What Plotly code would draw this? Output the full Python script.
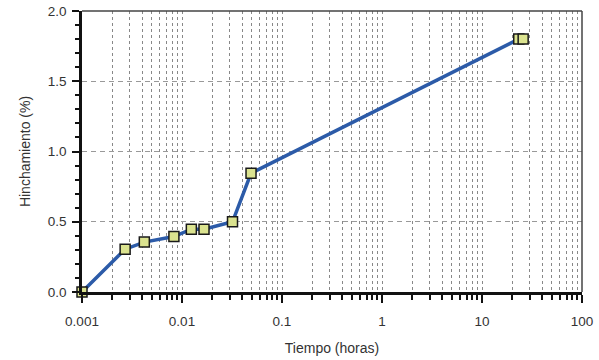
import plotly.graph_objects as go

tiempo_horas = [0.001, 0.0027, 0.0042, 0.0083, 0.0124, 0.0166, 0.032, 0.049, 23.3, 25.8]
hinchamiento = [0.0, 0.305, 0.355, 0.395, 0.447, 0.447, 0.50, 0.845, 1.80, 1.80]

x_tick_vals = [0.001, 0.01, 0.1, 1, 10, 100]
x_tick_text = ["0.001", "0.01", "0.1", "1", "10", "100"]
y_tick_vals = [0.0, 0.5, 1.0, 1.5, 2.0]
y_tick_text = ["0.0", "0.5", "1.0", "1.5", "2.0"]

minor_x = [d * m for d in [0.001, 0.01, 0.1, 1, 10] for m in range(2, 10)]

fig = go.Figure()
fig.add_trace(go.Scatter(
    x=tiempo_horas, y=hinchamiento, mode="lines+markers",
    line=dict(color="#2c5ba8", width=3.5),
    marker=dict(symbol="square", size=10, color="#dbe38f",
                line=dict(color="#1a1a1a", width=1.5)),
    showlegend=False, cliponaxis=False,
))

font = dict(family="Liberation Sans, Arial, sans-serif", color="#333333")
fig.update_layout(
    width=599, height=360,
    margin=dict(l=82, r=17, t=11, b=68, autoexpand=False),
    paper_bgcolor="white", plot_bgcolor="white",
    font=dict(size=13.5, **font),
    xaxis=dict(
        type="log", range=[-3, 2], automargin=False, ticklabeloverflow="allow",
        tickvals=x_tick_vals, ticktext=x_tick_text, ticklabelstandoff=7,
        ticks="outside", ticklen=8, tickwidth=2, tickcolor="#111",
        showline=True, linewidth=2.5, linecolor="#111",
        showgrid=True, gridcolor="#888", griddash="3px,3px", gridwidth=1,
        minor=dict(tickvals=minor_x, ticks="outside", ticklen=5, tickwidth=1.5,
                   tickcolor="#111", showgrid=True, gridcolor="#888",
                   griddash="3px,3px", gridwidth=1),
        title=dict(text="Tiempo (horas)", font=dict(size=14), standoff=16),
        zeroline=False,
    ),
    yaxis=dict(
        range=[0, 2.0], automargin=False, ticklabeloverflow="allow",
        tickvals=y_tick_vals, ticktext=y_tick_text, ticklabelstandoff=3,
        ticks="outside", ticklen=7, tickwidth=2, tickcolor="#111",
        showline=True, linewidth=2.5, linecolor="#111",
        showgrid=True, gridcolor="#999", griddash="5px,4px", gridwidth=1,
        minor=dict(dtick=0.1, ticks="outside", ticklen=4, tickwidth=1.5,
                   tickcolor="#111", showgrid=False),
        title=dict(text="Hinchamiento (%)", font=dict(size=14), standoff=14),
        zeroline=False,
    ),
    shapes=[
        dict(type="line", xref="paper", yref="paper", x0=0, x1=1, y0=1, y1=1,
             line=dict(color="#444", width=1.5)),
        dict(type="line", xref="paper", yref="paper", x0=1, x1=1, y0=0, y1=1,
             line=dict(color="#444", width=1.5)),
    ],
)
fig.write_html("out.html", config={"displayModeBar": False},
               post_script="document.body.style.margin='0';")
